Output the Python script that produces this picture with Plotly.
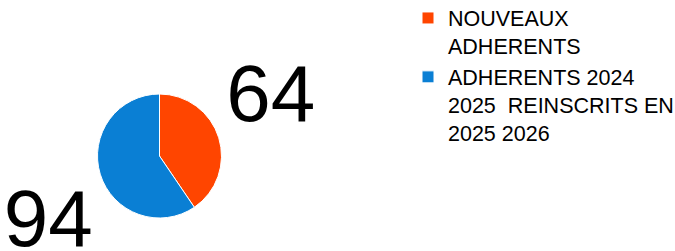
import plotly.graph_objects as go

categories = ["NOUVEAUX<br>ADHERENTS", "ADHERENTS 2024<br>2025\u00a0 REINSCRITS EN<br>2025 2026"]
values = [64, 94]
colors = ["#FF4500", "#0A7FD4"]

W, H = 675, 251
cx, cy, r = 159.5, 156, 62
r_lab = 61          # radius of the invisible label ring
lab_rot = -26       # rotation of label ring (degrees)

def dom(rad):
    return dict(x=[(cx - rad) / W, (cx + rad) / W],
                y=[(H - cy - rad) / H, (H - cy + rad) / H])

fig = go.Figure()
fig.add_trace(go.Pie(
    labels=categories,
    values=values,
    sort=False,
    direction="clockwise",
    rotation=0,
    marker=dict(colors=colors, line=dict(color="white", width=1)),
    textinfo="none",
    domain=dom(r),
    showlegend=True,
    hoverinfo="label+value",
))
# transparent ring carrying the value labels
fig.add_trace(go.Pie(
    labels=categories,
    values=values,
    sort=False,
    direction="clockwise",
    rotation=lab_rot,
    marker=dict(colors=["rgba(0,0,0,0)"] * 2, line=dict(width=0)),
    textinfo="value",
    textposition="outside",
    outsidetextfont=dict(family="Liberation Sans, sans-serif", size=80, color="black"),
    domain=dom(r_lab),
    showlegend=False,
    hoverinfo="skip",
))

fig.update_layout(
    width=W, height=H,
    margin=dict(l=0, r=0, t=0, b=0, autoexpand=False),
    paper_bgcolor="white",
    plot_bgcolor="white",
    font=dict(family="Liberation Sans, sans-serif", color="black"),
    legend=dict(
        x=408 / W, y=1.01, xanchor="left", yanchor="top",
        font=dict(size=21.5, color="black"),
        valign="top",
        tracegroupgap=10,
        maxheight=H,
        bgcolor="rgba(0,0,0,0)",
    ),
)

fig.write_html("out.html", config={"displayModeBar": False},
               post_script="document.body.style.margin='0';")
